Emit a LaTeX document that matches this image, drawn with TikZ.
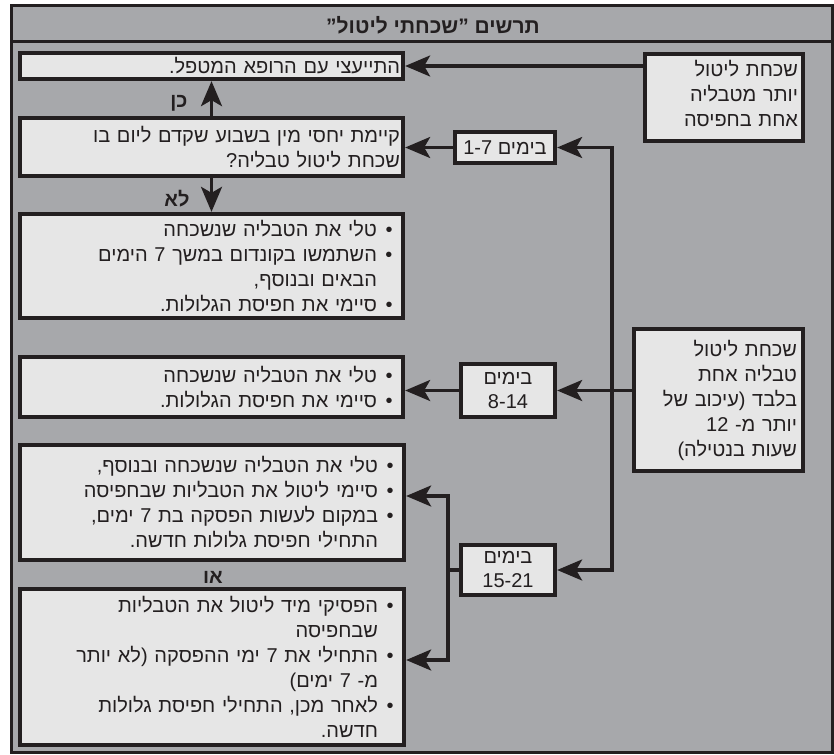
\documentclass[tikz,border=0pt]{standalone}
\usepackage{fontspec}
\setmainfont{Liberation Sans}[Script=Hebrew]
\TeXXeTstate=1
\usetikzlibrary{arrows.meta}
\definecolor{bg}{HTML}{A7A8AB}
\definecolor{boxfill}{HTML}{E6E6E6}
\definecolor{ink}{HTML}{231F20}
\newcommand{\heb}[1]{\beginR #1\endR}
\newcommand{\bl}[1]{\beginR\makebox[24pt]{•}#1\endR}
\newcommand{\cont}[1]{\beginR\hspace*{24pt}#1\endR}
\begin{document}
\begin{tikzpicture}[x=1pt,y=-1pt,
  box/.style={draw=ink, line width=3.8pt, fill=boxfill, inner sep=0pt, text=ink,
    font=\fontsize{20}{25}\selectfont, align=right},
  dbox/.style={draw=ink, line width=3.8pt, fill=boxfill, inner sep=0pt, text=ink,
    font=\fontsize{20}{24}\selectfont, align=center},
  lbl/.style={font=\bfseries\fontsize{20}{24}\selectfont, inner sep=0pt, text=ink},
  conn/.style={draw=ink, line width=3.3pt},
  tip/.tip={Stealth[length=25pt,width=21pt,inset=6pt]},
  arr/.style={conn, -tip},
  arrs/.style={conn, tip-tip}]
\useasboundingbox (0,0) rectangle (834,754);
% frame
\fill[bg] (11,6) rectangle (832,752);
\draw[ink, line width=3pt] (11,6) rectangle (832,752);
\draw[ink, line width=3pt] (11,42) -- (832,42);
\node[font=\bfseries\fontsize{21}{25}\selectfont, inner sep=0pt, text=ink] (title) at (433,25) {\heb{תרשים ”שכחתי ליטול”}};
% left column boxes
\node[box, minimum width=383.5pt, minimum height=26.5pt, text width=377pt] (b1) at (211.5,66)
  {\heb{התייעצי עם הרופא המטפל.}};
\node[box, minimum width=383.5pt, minimum height=58.5pt, text width=377pt] (b2) at (211.5,147)
  {\heb{קיימת יחסי מין בשבוע שקדם ליום בו}\\\heb{שכחת ליטול טבליה?}};
\node[box, minimum width=383.5pt, minimum height=104.5pt, text width=379pt] (b3) at (211.5,266)
  {\bl{טלי את הטבליה שנשכחה}\\\bl{השתמשו בקונדום במשך 7 הימים}\\\cont{הבאים ובנוסף,}\\\bl{סיימי את חפיסת הגלולות.}};
\node[box, minimum width=383.5pt, minimum height=60.5pt, text width=379pt] (b4) at (211.5,387)
  {\bl{טלי את הטבליה שנשכחה}\\\bl{סיימי את חפיסת הגלולות.}};
\node[box, minimum width=384.5pt, minimum height=115.5pt, text width=380pt] (b5) at (212,502.5)
  {\bl{טלי את הטבליה שנשכחה ובנוסף,}\\\bl{סיימי ליטול את הטבליות שבחפיסה}\\\bl{במקום לעשות הפסקה בת 7 ימים,}\\\cont{התחילי חפיסת גלולות חדשה.}};
\node[box, minimum width=384.5pt, minimum height=156.5pt, text width=380pt] (b6) at (212,667)
  {\bl{הפסיקי מיד ליטול את הטבליות}\\\cont{שבחפיסה}\\\bl{התחילי את 7 ימי ההפסקה (לא יותר}\\\cont{מ- 7 ימים)}\\\bl{לאחר מכן, התחילי חפיסת גלולות}\\\cont{חדשה.}};
% right column
\node[box, minimum width=158.5pt, minimum height=87.5pt, text width=148pt] (r1) at (724,97.5)
  {\heb{שכחת ליטול}\\\heb{יותר מטבליה}\\\heb{אחת בחפיסה}\\[-16pt]\mbox{}};
\node[box, minimum width=169.5pt, minimum height=142.5pt, text width=157pt] (r2) at (718.5,400)
  {\heb{שכחת ליטול}\\\heb{טבליה אחת}\\\heb{בלבד (עיכוב של}\\\heb{יותר מ- \beginL 12\endL}\\\heb{שעות בנטילה)}};
% day boxes
\node[dbox, minimum width=100.5pt, minimum height=31.5pt] (d17) at (505,147.5)
  {\heb{בימים \beginL 1-7\endL}};
\node[dbox, minimum width=94.5pt, minimum height=53.5pt] (d814) at (508,390.5)
  {\heb{בימים}\\8-14};
\node[dbox, minimum width=94.5pt, minimum height=50.5pt] (d1521) at (508,570)
  {\heb{בימים}\\15-21};
% labels
\node[lbl] (yes) at (179,103) {\heb{כן}};
\node[lbl] (no) at (177,199) {\heb{לא}};
\node[lbl] (or) at (213,577) {\heb{או}};
% helper coordinates
\coordinate (tk) at (612,0);
\coordinate (bk5) at (448,496);
\coordinate (bk6) at (448,660);
% connectors
\draw[arr] (r1.west |- b1.east) -- (b1.east);
\draw[arr] (b2.north) -- (b1.south);
\draw[arr] (b2.south) -- (b3.north);
\draw[arr] (d17.west) -- (b2.east |- d17.west);
\draw[arrs] (d1521.east) -- (tk |- d1521.east) -- (tk |- d17.east) -- (d17.east);
\draw[arr] (r2.west |- d814.east) -- (d814.east);
\draw[arr] (d814.west) -- (b4.east |- d814.west);
\draw[arrs] (b5.east |- bk5) -- (bk5) -- (bk6) -- (b6.east |- bk6);
\draw[conn] (d1521.west) -- (bk5 |- d1521.west);
\end{tikzpicture}
\end{document}
